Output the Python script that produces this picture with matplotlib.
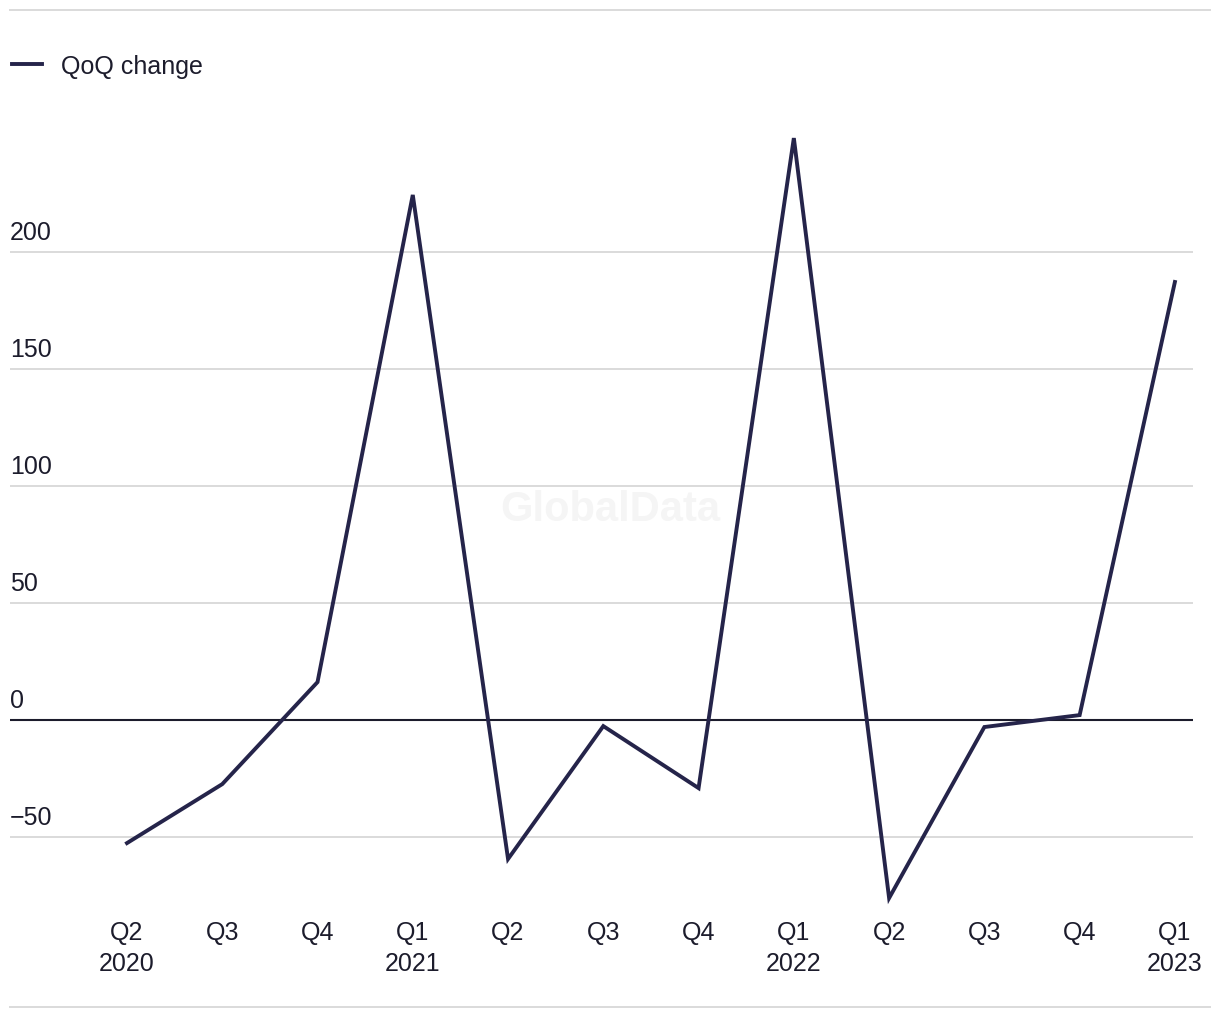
import matplotlib
matplotlib.use('Agg')
import matplotlib.pyplot as plt
from matplotlib.lines import Line2D

plt.rcParams['font.family'] = ['Liberation Sans', 'DejaVu Sans']

# data
quarters = ['Q2\n2020', 'Q3', 'Q4', 'Q1\n2021', 'Q2', 'Q3', 'Q4',
            'Q1\n2022', 'Q2', 'Q3', 'Q4', 'Q1\n2023']
qoq_change = [-52.6, -27.4, 16.2, 224.4, -59.4, -2.6, -29.1,
              248.7, -76.1, -3.0, 2.1, 187.2]
y_ticks = [-50, 0, 50, 100, 150, 200]

LINE_COLOR = '#25244a'
TEXT_COLOR = '#1c1c2c'
GRID_COLOR = '#dadada'
FS = 18

W, H = 1220, 1020
fig = plt.figure(figsize=(W / 100, H / 100), dpi=100)

# axes placed in pixel terms
left_px, right_px = 10, 1193
top_px, bottom_px = 122, 908.2
ax = fig.add_axes([left_px / W, 1 - bottom_px / H,
                   (right_px - left_px) / W, (bottom_px - top_px) / H])

x = list(range(len(qoq_change)))
ax.set_xlim(-1.228, 11.19)
ax.set_ylim(-80, 256)

for t in y_ticks:
    if t == 0:
        ax.axhline(t, color=TEXT_COLOR, lw=1.5, zorder=2)
    else:
        ax.axhline(t, color=GRID_COLOR, lw=1.4, zorder=1)
    ax.annotate(f'{t}'.replace('-', '\u2212'), xy=(0, t), xycoords=('axes fraction', 'data'),
                xytext=(0, 5.5), textcoords='offset points',
                ha='left', va='bottom', fontsize=FS, color=TEXT_COLOR)

ax.plot(x, qoq_change, color=LINE_COLOR, lw=2.8, solid_joinstyle='miter',
        zorder=3, label='QoQ change')

ax.set_xticks(x)
ax.set_xticklabels(quarters, fontsize=FS, color=TEXT_COLOR, linespacing=1.4)
ax.tick_params(axis='x', length=0, pad=9)
ax.set_yticks([])
for s in ax.spines.values():
    s.set_visible(False)

# watermark
ax.text(0.5, 0.5, 'GlobalData', transform=fig.transFigure, ha='center', va='center',
        fontsize=30, fontweight='bold', color='#f5f5f5', zorder=0)

# legend
ax.legend(loc='center left', bbox_to_anchor=(12 / W, 1 - 67 / H),
          bbox_transform=fig.transFigure, frameon=False, fontsize=FS,
          handlelength=1.2, handletextpad=0.75, borderpad=0, borderaxespad=0,
          labelcolor=TEXT_COLOR)

# top and bottom rules
fig.add_artist(Line2D([10 / W, 1210 / W], [1 - 11 / H, 1 - 11 / H],
                      color=GRID_COLOR, lw=1.4, transform=fig.transFigure))
fig.add_artist(Line2D([10 / W, 1210 / W], [1 - 1008 / H, 1 - 1008 / H],
                      color=GRID_COLOR, lw=1.4, transform=fig.transFigure))

fig.savefig('out.png', dpi=100)
